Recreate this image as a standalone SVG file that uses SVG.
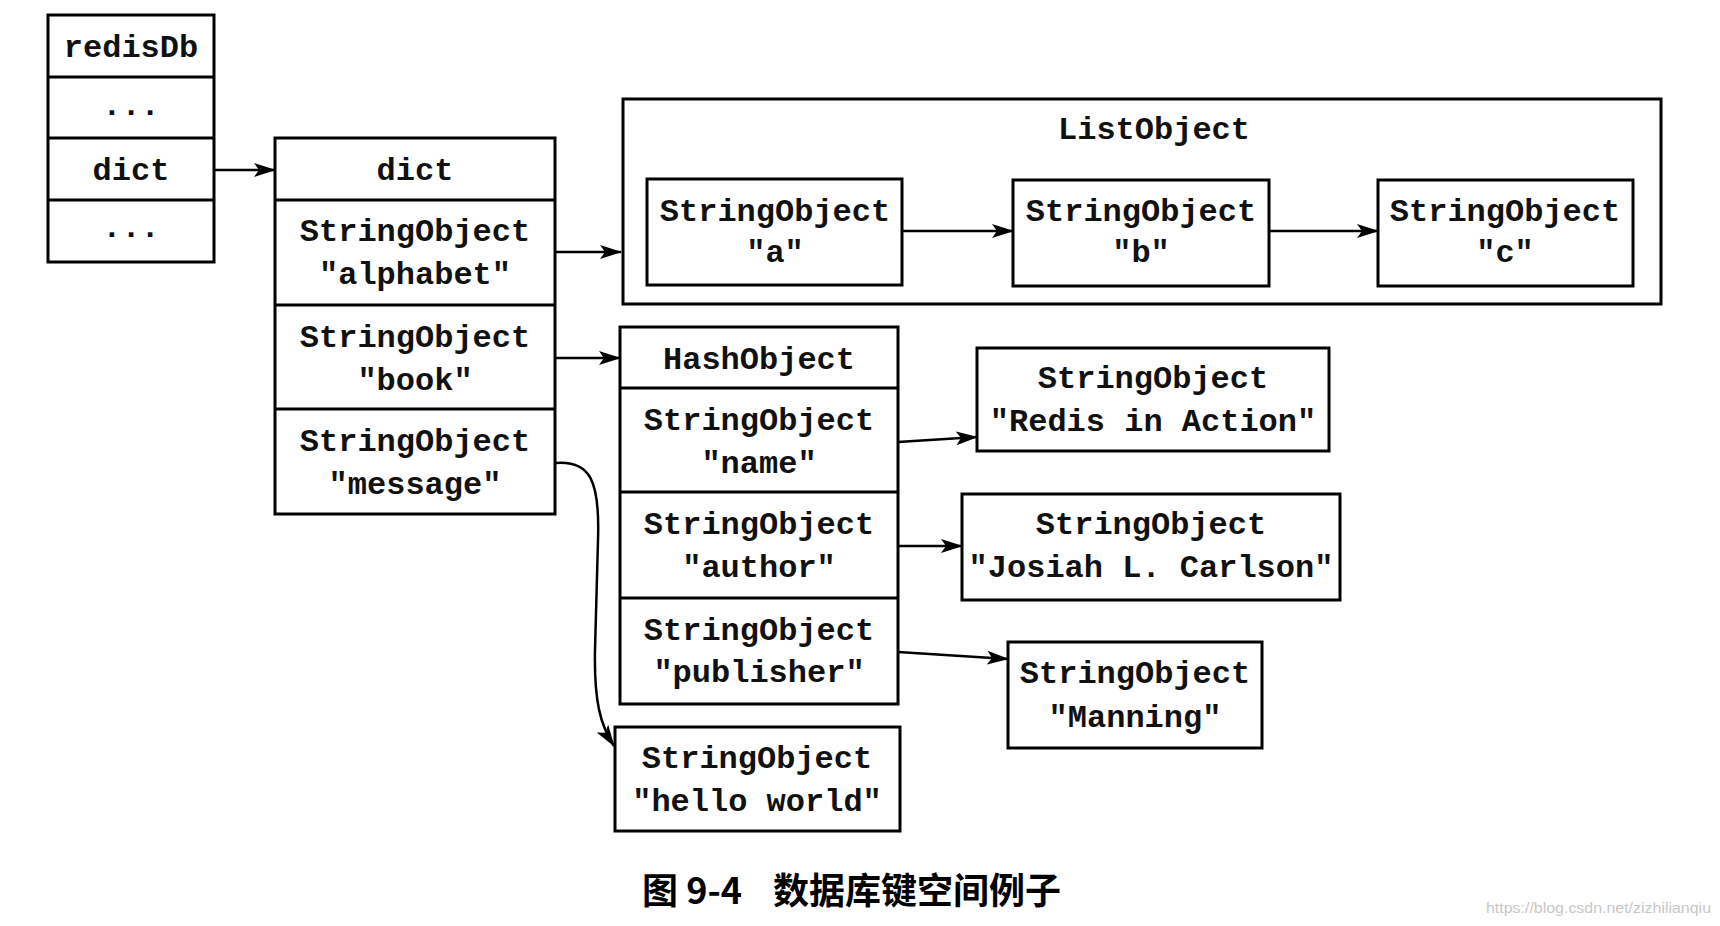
<svg xmlns="http://www.w3.org/2000/svg" width="1720" height="926" viewBox="0 0 1720 926">
<style>
.box{fill:#fff;stroke:#000;stroke-width:3}
.sep{stroke:#000;stroke-width:3}
.t{font-family:"Liberation Mono","Courier New",monospace;font-size:32px;font-weight:bold;text-anchor:middle;fill:#111}
.c{stroke:#000;stroke-width:2.5;fill:none;marker-end:url(#ah)}
.cap{font-family:"Noto Sans CJK SC","Noto Sans",sans-serif;font-size:36px;font-weight:bold;fill:#000}
.wm{font-family:"Liberation Sans",sans-serif;font-size:15px;fill:#c8c8c8}
</style>
<defs>
<marker id="ah" viewBox="0 0 22 14" refX="21" refY="7" markerWidth="22" markerHeight="14" markerUnits="userSpaceOnUse" orient="auto">
<path d="M0,0 L22,7 L0,14 L5,7 Z" fill="#000"/>
</marker>
</defs>
<rect width="1720" height="926" fill="#fff"/>

<g id="redisDb">
<rect class="box" x="48" y="15" width="166" height="247"/>
<line class="sep" x1="48" y1="77" x2="214" y2="77"/>
<line class="sep" x1="48" y1="138" x2="214" y2="138"/>
<line class="sep" x1="48" y1="200" x2="214" y2="200"/>
<text class="t" x="131" y="57">redisDb</text>
<text class="t" x="131" y="115">...</text>
<text class="t" x="131" y="180">dict</text>
<text class="t" x="131" y="237">...</text>
</g>

<g id="dict">
<rect class="box" x="275" y="138" width="280" height="376"/>
<line class="sep" x1="275" y1="200" x2="555" y2="200"/>
<line class="sep" x1="275" y1="305" x2="555" y2="305"/>
<line class="sep" x1="275" y1="409" x2="555" y2="409"/>
<text class="t" x="415" y="180">dict</text>
<text class="t" x="415" y="241">StringObject</text>
<text class="t" x="415" y="284">"alphabet"</text>
<text class="t" x="415" y="347">StringObject</text>
<text class="t" x="415" y="390">"book"</text>
<text class="t" x="415" y="451">StringObject</text>
<text class="t" x="415" y="494">"message"</text>
</g>

<g id="listObject">
<rect class="box" x="623" y="99" width="1038" height="205"/>
<text class="t" x="1154" y="139">ListObject</text>
</g>
<g id="strA">
<rect class="box" x="647" y="179" width="255" height="106"/>
<text class="t" x="775" y="221">StringObject</text>
<text class="t" x="775" y="262">"a"</text>
</g>
<g id="strB">
<rect class="box" x="1013" y="180" width="256" height="106"/>
<text class="t" x="1141" y="221">StringObject</text>
<text class="t" x="1141" y="262">"b"</text>
</g>
<g id="strC">
<rect class="box" x="1378" y="180" width="255" height="106"/>
<text class="t" x="1505" y="221">StringObject</text>
<text class="t" x="1505" y="262">"c"</text>
</g>

<g id="hashObject">
<rect class="box" x="620" y="327" width="278" height="377"/>
<line class="sep" x1="620" y1="388" x2="898" y2="388"/>
<line class="sep" x1="620" y1="492" x2="898" y2="492"/>
<line class="sep" x1="620" y1="598" x2="898" y2="598"/>
<text class="t" x="759" y="369">HashObject</text>
<text class="t" x="759" y="430">StringObject</text>
<text class="t" x="759" y="473">"name"</text>
<text class="t" x="759" y="534">StringObject</text>
<text class="t" x="759" y="577">"author"</text>
<text class="t" x="759" y="640">StringObject</text>
<text class="t" x="759" y="682">"publisher"</text>
</g>

<g id="strRedis">
<rect class="box" x="977" y="348" width="352" height="103"/>
<text class="t" x="1153" y="388">StringObject</text>
<text class="t" x="1153" y="431">"Redis in Action"</text>
</g>
<g id="strJosiah">
<rect class="box" x="962" y="494" width="378" height="106"/>
<text class="t" x="1151" y="534">StringObject</text>
<text class="t" x="1151" y="577">"Josiah L. Carlson"</text>
</g>
<g id="strManning">
<rect class="box" x="1008" y="642" width="254" height="106"/>
<text class="t" x="1135" y="683">StringObject</text>
<text class="t" x="1135" y="727">"Manning"</text>
</g>
<g id="strHello">
<rect class="box" x="615" y="727" width="285" height="104"/>
<text class="t" x="757" y="768">StringObject</text>
<text class="t" x="757" y="811">"hello world"</text>
</g>

<g id="connectors">
<line class="c" x1="214" y1="170" x2="275" y2="170"/>
<line class="c" x1="555" y1="252" x2="621" y2="252"/>
<line class="c" x1="902" y1="231" x2="1013" y2="231"/>
<line class="c" x1="1269" y1="231" x2="1378" y2="231"/>
<line class="c" x1="555" y1="358" x2="620" y2="358"/>
<line class="c" x1="898" y1="442" x2="977" y2="437"/>
<line class="c" x1="898" y1="546" x2="962" y2="546"/>
<line class="c" x1="898" y1="652" x2="1008" y2="659"/>
<path class="c" d="M555,463 C590,460 600,480 598,540 L595,650 C594,700 600,725 614,746"/>
</g>

<text class="cap" x="642" y="904">图 9-4<tspan x="773">数据库键空间例子</tspan></text>
<text class="wm" x="1486" y="913" textLength="225" lengthAdjust="spacingAndGlyphs">https://blog.csdn.net/zizhilianqiu</text>
</svg>
